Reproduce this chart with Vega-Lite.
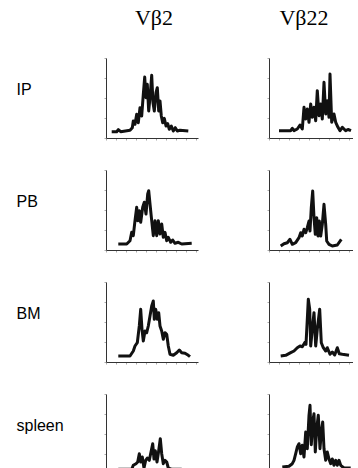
{
"$schema": "https://vega.github.io/schema/vega-lite/v6.json",
"background": "white",
"padding": {"left": 16, "top": 6, "right": 0, "bottom": 0},
"datasets": {"d": [
{"tissue":"IP","vb":"Vβ2","x":5.7,"y":6.3},{"tissue":"IP","vb":"Vβ2","x":10.7,"y":6.3},{"tissue":"IP","vb":"Vβ2","x":12.3,"y":8.3},{"tissue":"IP","vb":"Vβ2","x":14.7,"y":6.3},{"tissue":"IP","vb":"Vβ2","x":24,"y":7.7},{"tissue":"IP","vb":"Vβ2","x":26.3,"y":10.3},{"tissue":"IP","vb":"Vβ2","x":27.3,"y":17},{"tissue":"IP","vb":"Vβ2","x":29,"y":13.7},{"tissue":"IP","vb":"Vβ2","x":30.7,"y":23.7},{"tissue":"IP","vb":"Vβ2","x":32.3,"y":15.3},{"tissue":"IP","vb":"Vβ2","x":34,"y":30.3},{"tissue":"IP","vb":"Vβ2","x":35.7,"y":22},{"tissue":"IP","vb":"Vβ2","x":37.3,"y":43.7},{"tissue":"IP","vb":"Vβ2","x":38.7,"y":61},{"tissue":"IP","vb":"Vβ2","x":40,"y":40.3},{"tissue":"IP","vb":"Vβ2","x":41.3,"y":53.7},{"tissue":"IP","vb":"Vβ2","x":42.7,"y":27},{"tissue":"IP","vb":"Vβ2","x":44,"y":40.3},{"tissue":"IP","vb":"Vβ2","x":45.7,"y":62.7},{"tissue":"IP","vb":"Vβ2","x":47,"y":35.3},{"tissue":"IP","vb":"Vβ2","x":48.3,"y":27},{"tissue":"IP","vb":"Vβ2","x":50,"y":45.3},{"tissue":"IP","vb":"Vβ2","x":51.3,"y":50.3},{"tissue":"IP","vb":"Vβ2","x":52.7,"y":27},{"tissue":"IP","vb":"Vβ2","x":54,"y":37},{"tissue":"IP","vb":"Vβ2","x":55.3,"y":22},{"tissue":"IP","vb":"Vβ2","x":56.7,"y":15.3},{"tissue":"IP","vb":"Vβ2","x":58.3,"y":19.7},{"tissue":"IP","vb":"Vβ2","x":60,"y":12},{"tissue":"IP","vb":"Vβ2","x":61.7,"y":14.3},{"tissue":"IP","vb":"Vβ2","x":63.3,"y":8.7},{"tissue":"IP","vb":"Vβ2","x":65.3,"y":12},{"tissue":"IP","vb":"Vβ2","x":67.3,"y":7},{"tissue":"IP","vb":"Vβ2","x":69.3,"y":10.3},{"tissue":"IP","vb":"Vβ2","x":71.3,"y":7},{"tissue":"IP","vb":"Vβ2","x":74,"y":7.7},{"tissue":"IP","vb":"Vβ2","x":82.3,"y":7},
{"tissue":"IP","vb":"Vβ22","x":10,"y":7.3},{"tissue":"IP","vb":"Vβ22","x":21.7,"y":7.3},{"tissue":"IP","vb":"Vβ22","x":23.3,"y":9.7},{"tissue":"IP","vb":"Vβ22","x":25,"y":7.3},{"tissue":"IP","vb":"Vβ22","x":28.3,"y":9},{"tissue":"IP","vb":"Vβ22","x":31,"y":13},{"tissue":"IP","vb":"Vβ22","x":33.3,"y":9},{"tissue":"IP","vb":"Vβ22","x":35,"y":30.7},{"tissue":"IP","vb":"Vβ22","x":36.7,"y":19},{"tissue":"IP","vb":"Vβ22","x":38.3,"y":29},{"tissue":"IP","vb":"Vβ22","x":40,"y":15.7},{"tissue":"IP","vb":"Vβ22","x":41.7,"y":34},{"tissue":"IP","vb":"Vβ22","x":43.3,"y":20.7},{"tissue":"IP","vb":"Vβ22","x":45,"y":30.7},{"tissue":"IP","vb":"Vβ22","x":46.7,"y":17.3},{"tissue":"IP","vb":"Vβ22","x":48.3,"y":47.3},{"tissue":"IP","vb":"Vβ22","x":50,"y":22.3},{"tissue":"IP","vb":"Vβ22","x":51.7,"y":34},{"tissue":"IP","vb":"Vβ22","x":53.3,"y":19},{"tissue":"IP","vb":"Vβ22","x":55,"y":55.7},{"tissue":"IP","vb":"Vβ22","x":56.7,"y":24},{"tissue":"IP","vb":"Vβ22","x":58.3,"y":37.3},{"tissue":"IP","vb":"Vβ22","x":60,"y":20.7},{"tissue":"IP","vb":"Vβ22","x":61,"y":64},{"tissue":"IP","vb":"Vβ22","x":62.7,"y":15.7},{"tissue":"IP","vb":"Vβ22","x":65,"y":24},{"tissue":"IP","vb":"Vβ22","x":66.7,"y":15.7},{"tissue":"IP","vb":"Vβ22","x":69,"y":10.7},{"tissue":"IP","vb":"Vβ22","x":71,"y":7.3},{"tissue":"IP","vb":"Vβ22","x":73.3,"y":10.7},{"tissue":"IP","vb":"Vβ22","x":76.7,"y":7.3},{"tissue":"IP","vb":"Vβ22","x":79,"y":8.5},{"tissue":"IP","vb":"Vβ22","x":82,"y":7.3},
{"tissue":"PB","vb":"Vβ2","x":12.3,"y":6},{"tissue":"PB","vb":"Vβ2","x":20.7,"y":6},{"tissue":"PB","vb":"Vβ2","x":24,"y":9.3},{"tissue":"PB","vb":"Vβ2","x":25.7,"y":17.7},{"tissue":"PB","vb":"Vβ2","x":27.3,"y":14.3},{"tissue":"PB","vb":"Vβ2","x":29,"y":29.3},{"tissue":"PB","vb":"Vβ2","x":30.7,"y":42.7},{"tissue":"PB","vb":"Vβ2","x":31.7,"y":29.3},{"tissue":"PB","vb":"Vβ2","x":33.3,"y":39.3},{"tissue":"PB","vb":"Vβ2","x":34.7,"y":27.7},{"tissue":"PB","vb":"Vβ2","x":36.7,"y":42.7},{"tissue":"PB","vb":"Vβ2","x":38.3,"y":47.7},{"tissue":"PB","vb":"Vβ2","x":40,"y":36},{"tissue":"PB","vb":"Vβ2","x":41.7,"y":56},{"tissue":"PB","vb":"Vβ2","x":42.7,"y":59.3},{"tissue":"PB","vb":"Vβ2","x":44,"y":46},{"tissue":"PB","vb":"Vβ2","x":45.7,"y":29.3},{"tissue":"PB","vb":"Vβ2","x":47.3,"y":14.3},{"tissue":"PB","vb":"Vβ2","x":49,"y":29.3},{"tissue":"PB","vb":"Vβ2","x":50.7,"y":14.3},{"tissue":"PB","vb":"Vβ2","x":52.3,"y":29.3},{"tissue":"PB","vb":"Vβ2","x":54,"y":16},{"tissue":"PB","vb":"Vβ2","x":55.7,"y":26},{"tissue":"PB","vb":"Vβ2","x":57.3,"y":12.7},{"tissue":"PB","vb":"Vβ2","x":59,"y":17.7},{"tissue":"PB","vb":"Vβ2","x":60.7,"y":9.3},{"tissue":"PB","vb":"Vβ2","x":62.3,"y":12.7},{"tissue":"PB","vb":"Vβ2","x":64.7,"y":7.7},{"tissue":"PB","vb":"Vβ2","x":66.7,"y":10},{"tissue":"PB","vb":"Vβ2","x":69,"y":6.7},{"tissue":"PB","vb":"Vβ2","x":72.3,"y":7.7},{"tissue":"PB","vb":"Vβ2","x":75.7,"y":6},{"tissue":"PB","vb":"Vβ2","x":85.7,"y":6.7},
{"tissue":"PB","vb":"Vβ22","x":11.7,"y":4},{"tissue":"PB","vb":"Vβ22","x":15,"y":6.3},{"tissue":"PB","vb":"Vβ22","x":18.3,"y":7.3},{"tissue":"PB","vb":"Vβ22","x":21,"y":10.7},{"tissue":"PB","vb":"Vβ22","x":23.3,"y":5.7},{"tissue":"PB","vb":"Vβ22","x":26.7,"y":7.3},{"tissue":"PB","vb":"Vβ22","x":30,"y":12.3},{"tissue":"PB","vb":"Vβ22","x":31.7,"y":17.3},{"tissue":"PB","vb":"Vβ22","x":33.3,"y":14},{"tissue":"PB","vb":"Vβ22","x":35,"y":20.7},{"tissue":"PB","vb":"Vβ22","x":36.7,"y":17.3},{"tissue":"PB","vb":"Vβ22","x":38.3,"y":22.3},{"tissue":"PB","vb":"Vβ22","x":40,"y":29},{"tissue":"PB","vb":"Vβ22","x":41,"y":19},{"tissue":"PB","vb":"Vβ22","x":42.3,"y":42.3},{"tissue":"PB","vb":"Vβ22","x":43.7,"y":59},{"tissue":"PB","vb":"Vβ22","x":45,"y":32.3},{"tissue":"PB","vb":"Vβ22","x":46.3,"y":15.7},{"tissue":"PB","vb":"Vβ22","x":47.7,"y":32.3},{"tissue":"PB","vb":"Vβ22","x":49,"y":14},{"tissue":"PB","vb":"Vβ22","x":50.3,"y":29},{"tissue":"PB","vb":"Vβ22","x":51.7,"y":14},{"tissue":"PB","vb":"Vβ22","x":53.3,"y":25.7},{"tissue":"PB","vb":"Vβ22","x":55,"y":45.7},{"tissue":"PB","vb":"Vβ22","x":56.7,"y":25.7},{"tissue":"PB","vb":"Vβ22","x":57.7,"y":9},{"tissue":"PB","vb":"Vβ22","x":60,"y":5.7},{"tissue":"PB","vb":"Vβ22","x":63.3,"y":4},{"tissue":"PB","vb":"Vβ22","x":68.3,"y":5},{"tissue":"PB","vb":"Vβ22","x":72.3,"y":10.7},
{"tissue":"BM","vb":"Vβ2","x":12.3,"y":6},{"tissue":"BM","vb":"Vβ2","x":24,"y":6},{"tissue":"BM","vb":"Vβ2","x":27.3,"y":11},{"tissue":"BM","vb":"Vβ2","x":29,"y":16},{"tissue":"BM","vb":"Vβ2","x":31.3,"y":19.3},{"tissue":"BM","vb":"Vβ2","x":33.3,"y":36},{"tissue":"BM","vb":"Vβ2","x":34.7,"y":52.7},{"tissue":"BM","vb":"Vβ2","x":36,"y":32.7},{"tissue":"BM","vb":"Vβ2","x":37.3,"y":21},{"tissue":"BM","vb":"Vβ2","x":39,"y":31},{"tissue":"BM","vb":"Vβ2","x":40.7,"y":29.3},{"tissue":"BM","vb":"Vβ2","x":42.3,"y":36},{"tissue":"BM","vb":"Vβ2","x":44,"y":46},{"tissue":"BM","vb":"Vβ2","x":45.7,"y":56},{"tissue":"BM","vb":"Vβ2","x":47.3,"y":61},{"tissue":"BM","vb":"Vβ2","x":48.3,"y":42.7},{"tissue":"BM","vb":"Vβ2","x":49.7,"y":52.7},{"tissue":"BM","vb":"Vβ2","x":51.3,"y":42.7},{"tissue":"BM","vb":"Vβ2","x":52.7,"y":49.3},{"tissue":"BM","vb":"Vβ2","x":54,"y":36},{"tissue":"BM","vb":"Vβ2","x":55.7,"y":31},{"tissue":"BM","vb":"Vβ2","x":57.3,"y":22.7},{"tissue":"BM","vb":"Vβ2","x":59,"y":29.3},{"tissue":"BM","vb":"Vβ2","x":60.7,"y":27.7},{"tissue":"BM","vb":"Vβ2","x":62.3,"y":16},{"tissue":"BM","vb":"Vβ2","x":64,"y":7.7},{"tissue":"BM","vb":"Vβ2","x":67.3,"y":6.7},{"tissue":"BM","vb":"Vβ2","x":70.7,"y":9.3},{"tissue":"BM","vb":"Vβ2","x":73.3,"y":12},{"tissue":"BM","vb":"Vβ2","x":75.7,"y":9.3},{"tissue":"BM","vb":"Vβ2","x":79,"y":8.7},{"tissue":"BM","vb":"Vβ2","x":82.3,"y":6.7},{"tissue":"BM","vb":"Vβ2","x":84,"y":5.3},
{"tissue":"BM","vb":"Vβ22","x":11.7,"y":6},{"tissue":"BM","vb":"Vβ22","x":16.7,"y":6.7},{"tissue":"BM","vb":"Vβ22","x":21.7,"y":9.3},{"tissue":"BM","vb":"Vβ22","x":25,"y":11},{"tissue":"BM","vb":"Vβ22","x":28.3,"y":14.3},{"tissue":"BM","vb":"Vβ22","x":31,"y":16},{"tissue":"BM","vb":"Vβ22","x":33.3,"y":15.3},{"tissue":"BM","vb":"Vβ22","x":35.7,"y":19.3},{"tissue":"BM","vb":"Vβ22","x":37,"y":17.7},{"tissue":"BM","vb":"Vβ22","x":38.3,"y":42.7},{"tissue":"BM","vb":"Vβ22","x":39.3,"y":62.7},{"tissue":"BM","vb":"Vβ22","x":40.7,"y":52.7},{"tissue":"BM","vb":"Vβ22","x":41.7,"y":16},{"tissue":"BM","vb":"Vβ22","x":43.3,"y":32.7},{"tissue":"BM","vb":"Vβ22","x":45,"y":49.3},{"tissue":"BM","vb":"Vβ22","x":46.7,"y":16},{"tissue":"BM","vb":"Vβ22","x":48.3,"y":32.7},{"tissue":"BM","vb":"Vβ22","x":50.7,"y":52.7},{"tissue":"BM","vb":"Vβ22","x":52.3,"y":19.3},{"tissue":"BM","vb":"Vβ22","x":54.3,"y":14.3},{"tissue":"BM","vb":"Vβ22","x":56.7,"y":11},{"tissue":"BM","vb":"Vβ22","x":58.3,"y":14.3},{"tissue":"BM","vb":"Vβ22","x":61,"y":7.7},{"tissue":"BM","vb":"Vβ22","x":63.3,"y":10},{"tissue":"BM","vb":"Vβ22","x":65.7,"y":7},{"tissue":"BM","vb":"Vβ22","x":68.3,"y":14.3},{"tissue":"BM","vb":"Vβ22","x":70.3,"y":8.3},{"tissue":"BM","vb":"Vβ22","x":73.3,"y":7.7},{"tissue":"BM","vb":"Vβ22","x":80,"y":6.7},
{"tissue":"spleen","vb":"Vβ2","x":12.3,"y":4.7},{"tissue":"spleen","vb":"Vβ2","x":25.7,"y":4.7},{"tissue":"spleen","vb":"Vβ2","x":27.3,"y":8.7},{"tissue":"spleen","vb":"Vβ2","x":30,"y":10.3},{"tissue":"spleen","vb":"Vβ2","x":31.7,"y":12},{"tissue":"spleen","vb":"Vβ2","x":33.3,"y":20.3},{"tissue":"spleen","vb":"Vβ2","x":34.7,"y":12},{"tissue":"spleen","vb":"Vβ2","x":36.3,"y":17},{"tissue":"spleen","vb":"Vβ2","x":38,"y":6},{"tissue":"spleen","vb":"Vβ2","x":39.7,"y":13.7},{"tissue":"spleen","vb":"Vβ2","x":41.3,"y":16},{"tissue":"spleen","vb":"Vβ2","x":43.3,"y":13.7},{"tissue":"spleen","vb":"Vβ2","x":45,"y":22},{"tissue":"spleen","vb":"Vβ2","x":46.7,"y":30.3},{"tissue":"spleen","vb":"Vβ2","x":48,"y":15},{"tissue":"spleen","vb":"Vβ2","x":49.3,"y":23.3},{"tissue":"spleen","vb":"Vβ2","x":51,"y":12},{"tissue":"spleen","vb":"Vβ2","x":52.7,"y":23.3},{"tissue":"spleen","vb":"Vβ2","x":54.3,"y":35.3},{"tissue":"spleen","vb":"Vβ2","x":55.7,"y":20.3},{"tissue":"spleen","vb":"Vβ2","x":57.3,"y":10.3},{"tissue":"spleen","vb":"Vβ2","x":59,"y":13.7},{"tissue":"spleen","vb":"Vβ2","x":60.7,"y":12},{"tissue":"spleen","vb":"Vβ2","x":62.3,"y":6},{"tissue":"spleen","vb":"Vβ2","x":65.7,"y":4.7},{"tissue":"spleen","vb":"Vβ2","x":75.7,"y":4.7},
{"tissue":"spleen","vb":"Vβ22","x":13.3,"y":7},{"tissue":"spleen","vb":"Vβ22","x":20,"y":7.7},{"tissue":"spleen","vb":"Vβ22","x":23.3,"y":10.3},{"tissue":"spleen","vb":"Vβ22","x":25,"y":13.7},{"tissue":"spleen","vb":"Vβ22","x":26.7,"y":20.3},{"tissue":"spleen","vb":"Vβ22","x":28.3,"y":27},{"tissue":"spleen","vb":"Vβ22","x":30,"y":30.3},{"tissue":"spleen","vb":"Vβ22","x":31.7,"y":20.3},{"tissue":"spleen","vb":"Vβ22","x":33.3,"y":28.7},{"tissue":"spleen","vb":"Vβ22","x":35,"y":17},{"tissue":"spleen","vb":"Vβ22","x":36.7,"y":42},{"tissue":"spleen","vb":"Vβ22","x":38.3,"y":25.3},{"tissue":"spleen","vb":"Vβ22","x":40,"y":58.7},{"tissue":"spleen","vb":"Vβ22","x":41,"y":68.7},{"tissue":"spleen","vb":"Vβ22","x":42.3,"y":29.3},{"tissue":"spleen","vb":"Vβ22","x":43.7,"y":52},{"tissue":"spleen","vb":"Vβ22","x":45,"y":60.3},{"tissue":"spleen","vb":"Vβ22","x":46.3,"y":22},{"tissue":"spleen","vb":"Vβ22","x":47.7,"y":45.3},{"tissue":"spleen","vb":"Vβ22","x":49.3,"y":58.7},{"tissue":"spleen","vb":"Vβ22","x":51,"y":25.3},{"tissue":"spleen","vb":"Vβ22","x":52.3,"y":42},{"tissue":"spleen","vb":"Vβ22","x":53.7,"y":52},{"tissue":"spleen","vb":"Vβ22","x":55,"y":25.3},{"tissue":"spleen","vb":"Vβ22","x":56.7,"y":13.7},{"tissue":"spleen","vb":"Vβ22","x":58.3,"y":22},{"tissue":"spleen","vb":"Vβ22","x":60,"y":15},{"tissue":"spleen","vb":"Vβ22","x":61.7,"y":10.3},{"tissue":"spleen","vb":"Vβ22","x":63.3,"y":15},{"tissue":"spleen","vb":"Vβ22","x":65,"y":8.7},{"tissue":"spleen","vb":"Vβ22","x":66.7,"y":13.7},{"tissue":"spleen","vb":"Vβ22","x":68.3,"y":8.7},{"tissue":"spleen","vb":"Vβ22","x":70,"y":13.7},{"tissue":"spleen","vb":"Vβ22","x":71.7,"y":8.7},{"tissue":"spleen","vb":"Vβ22","x":75,"y":6},{"tissue":"spleen","vb":"Vβ22","x":81.7,"y":6}
]},
"data": {"name": "d"},
"spacing": 28,
"vconcat": [
 {"spacing": 68, "hconcat": [
  {"width": 92, "height": 80, "title": {"text": "Vβ2", "dx": 2}, "transform": [{"filter": "datum.tissue === 'IP' && datum.vb === 'Vβ2'"}], "mark": "line",
   "encoding": {"x": {"field": "x", "type": "quantitative", "scale": {"domain": [0, 92], "nice": false}, "axis": {"title": null}},
     "y": {"field": "y", "type": "quantitative", "scale": {"domain": [0, 80], "nice": false}, "axis": {"title": "IP", "titleX": -90, "titleY": 31}}}},
  {"width": 84, "height": 80, "title": {"text": "Vβ22", "dx": -7}, "transform": [{"filter": "datum.tissue === 'IP' && datum.vb === 'Vβ22'"}], "mark": "line",
   "encoding": {"x": {"field": "x", "type": "quantitative", "scale": {"domain": [0, 84], "nice": false}, "axis": {"title": null}},
     "y": {"field": "y", "type": "quantitative", "scale": {"domain": [0, 80], "nice": false}, "axis": {"title": null}}}}
 ]},
 {"spacing": 68, "hconcat": [
  {"width": 92, "height": 80, "transform": [{"filter": "datum.tissue === 'PB' && datum.vb === 'Vβ2'"}], "mark": "line",
   "encoding": {"x": {"field": "x", "type": "quantitative", "scale": {"domain": [0, 92], "nice": false}, "axis": {"title": null}},
     "y": {"field": "y", "type": "quantitative", "scale": {"domain": [0, 80], "nice": false}, "axis": {"title": "PB", "titleX": -90, "titleY": 31}}}},
  {"width": 84, "height": 80, "transform": [{"filter": "datum.tissue === 'PB' && datum.vb === 'Vβ22'"}], "mark": "line",
   "encoding": {"x": {"field": "x", "type": "quantitative", "scale": {"domain": [0, 84], "nice": false}, "axis": {"title": null}},
     "y": {"field": "y", "type": "quantitative", "scale": {"domain": [0, 80], "nice": false}, "axis": {"title": null}}}}
 ]},
 {"spacing": 68, "hconcat": [
  {"width": 92, "height": 80, "transform": [{"filter": "datum.tissue === 'BM' && datum.vb === 'Vβ2'"}], "mark": "line",
   "encoding": {"x": {"field": "x", "type": "quantitative", "scale": {"domain": [0, 92], "nice": false}, "axis": {"title": null}},
     "y": {"field": "y", "type": "quantitative", "scale": {"domain": [0, 80], "nice": false}, "axis": {"title": "BM", "titleX": -90, "titleY": 31}}}},
  {"width": 84, "height": 80, "transform": [{"filter": "datum.tissue === 'BM' && datum.vb === 'Vβ22'"}], "mark": "line",
   "encoding": {"x": {"field": "x", "type": "quantitative", "scale": {"domain": [0, 84], "nice": false}, "axis": {"title": null}},
     "y": {"field": "y", "type": "quantitative", "scale": {"domain": [0, 80], "nice": false}, "axis": {"title": null}}}}
 ]},
 {"spacing": 68, "hconcat": [
  {"width": 92, "height": 80, "transform": [{"filter": "datum.tissue === 'spleen' && datum.vb === 'Vβ2'"}], "mark": "line",
   "encoding": {"x": {"field": "x", "type": "quantitative", "scale": {"domain": [0, 92], "nice": false}, "axis": {"title": null}},
     "y": {"field": "y", "type": "quantitative", "scale": {"domain": [0, 80], "nice": false}, "axis": {"title": "spleen", "titleX": -90, "titleY": 31}}}},
  {"width": 84, "height": 80, "transform": [{"filter": "datum.tissue === 'spleen' && datum.vb === 'Vβ22'"}], "mark": "line",
   "encoding": {"x": {"field": "x", "type": "quantitative", "scale": {"domain": [0, 84], "nice": false}, "axis": {"title": null}},
     "y": {"field": "y", "type": "quantitative", "scale": {"domain": [0, 80], "nice": false}, "axis": {"title": null}}}}
 ]}
],
"config": {
  "view": {"stroke": null},
  "line": {"color": "#111", "strokeWidth": 3, "strokeJoin": "round"},
  "title": {"font": "Liberation Serif", "fontSize": 22, "fontWeight": "normal", "color": "black", "anchor": "middle", "baseline": "alphabetic", "offset": 28},
  "axis": {"labels": false, "grid": false, "ticks": true, "tickSize": 2, "tickColor": "#aaa", "domainColor": "#333", "titleFont": "Liberation Sans", "titleFontSize": 16, "titleFontWeight": "normal", "titleColor": "black", "titleAngle": 0, "titleAlign": "left", "titleBaseline": "middle"},
  "axisX": {"tickCount": 8},
  "axisY": {"tickCount": 5}
}
}
